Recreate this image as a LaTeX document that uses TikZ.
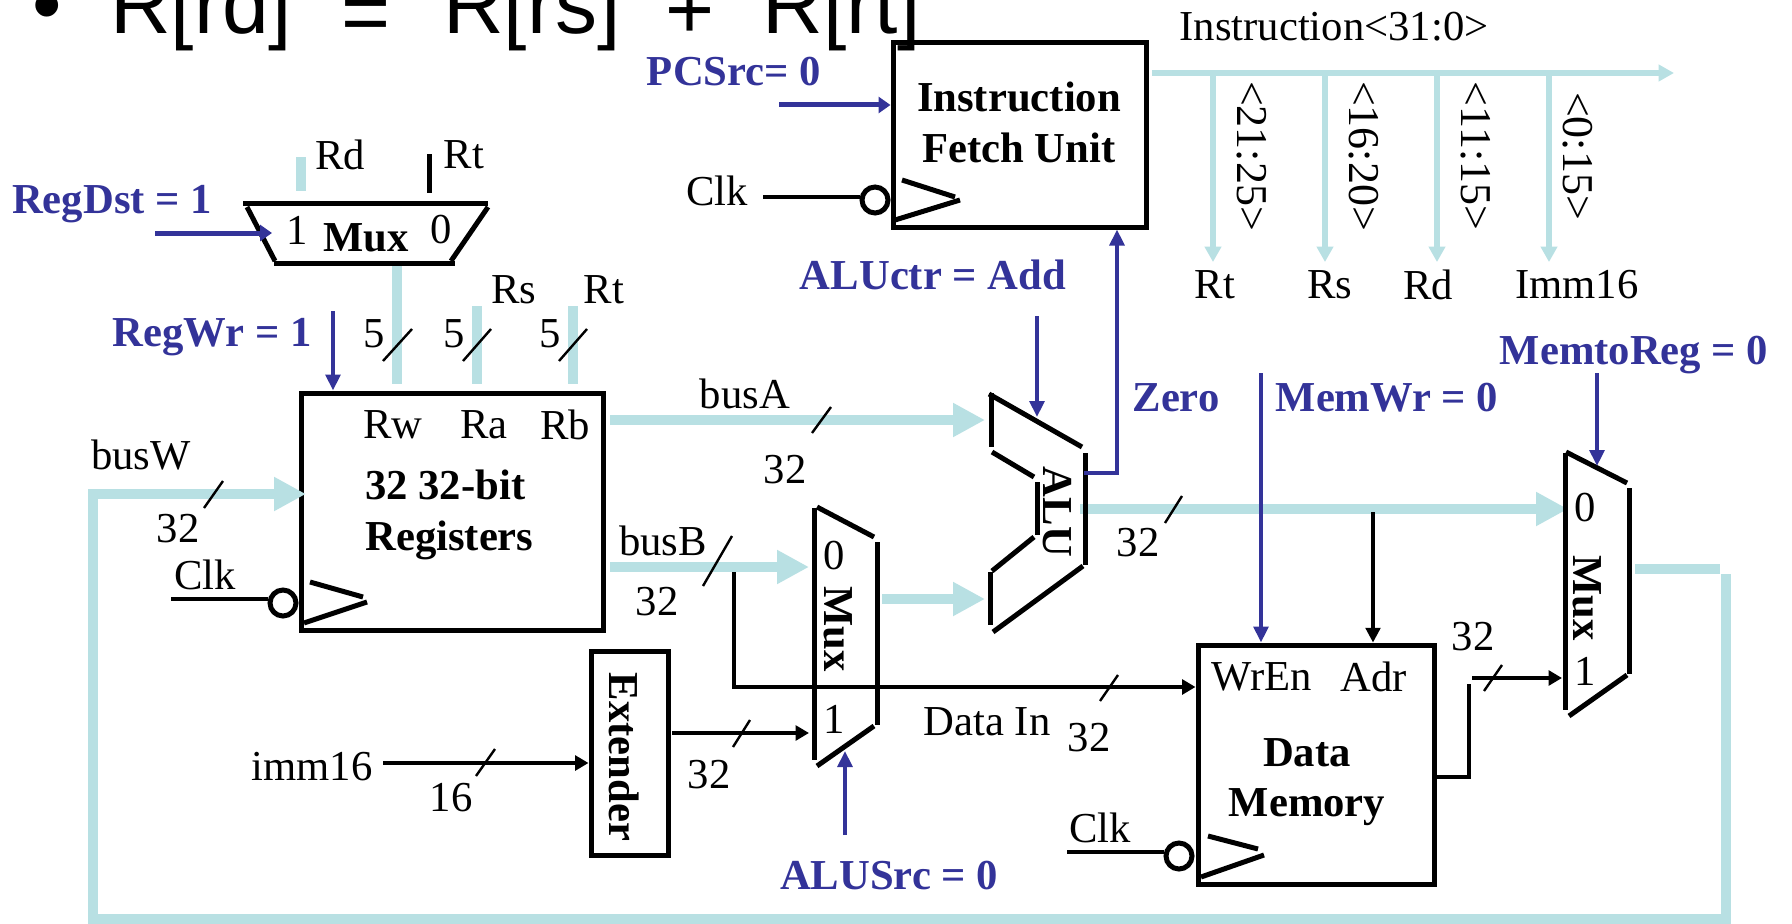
\documentclass[tikz,border=0pt]{standalone}
\usepackage{fontspec}
\setmainfont{Liberation Serif}
\newfontfamily\arialfont{Liberation Sans}
\usetikzlibrary{arrows.meta}
\def\px{0.75pt}
\definecolor{busteal}{HTML}{B8E0E3}
\definecolor{ctlblue}{HTML}{333399}
\tikzset{
  lbl/.style={font=\fontsize{32}{36}\selectfont,inner sep=0pt,anchor=center},
  rotlbl/.style={font=\fontsize{33}{36}\selectfont,inner sep=0pt,anchor=center,rotate=-90},
  bld/.style={font=\fontsize{32}{36}\selectfont\bfseries,inner sep=0pt,anchor=center},
  ctl/.style={bld,text=ctlblue},
  blockbox/.style={draw=black,line width=5*\px,minimum width=#1,inner sep=0pt},
  seg/.style={draw=black,line width=5*\px},
  tick/.style={draw=black,line width=2.4*\px},
  bus/.style={draw=busteal,line width=10.5*\px},
  busarrow/.style={bus,-{Triangle[length=24pt,width=24pt]}},
  thinbus/.style={draw=busteal,line width=5.5*\px},
  thinbusarrow/.style={thinbus,-{Triangle[length=11.5pt,width=12pt]}},
  wire/.style={draw=black,line width=4.6*\px},
  wirearrow/.style={wire,-{Triangle[length=10pt,width=11pt]}},
  ctlarrow/.style={draw=ctlblue,line width=3.8*\px,-{Triangle[length=12pt,width=11pt]}},
  ctlthick/.style={draw=ctlblue,line width=5*\px,-{Triangle[length=9pt,width=12pt]}},
  clkcirc/.style={circle,draw=black,fill=white,line width=5*\px,minimum size=26*\px,inner sep=0pt},
  clktri/.style={draw=black,line width=5*\px},
  headfont/.style={font=\fontsize{63}{70}\arialfont,anchor=base west,inner sep=0pt},
}
\begin{document}
\begin{tikzpicture}[x=0.75pt,y=-0.75pt]
\useasboundingbox (0,0) rectangle (1792,924);
\fill[white] (0,0) rectangle (1792,924);
\clip (0,0) rectangle (1792,924);

% ---- blocks
\node[blockbox=253*\px,minimum height=184*\px] (ifu) at (1019.5,135) {};
\node[blockbox=302*\px,minimum height=237*\px] (regs) at (452,511.5) {};
\node[blockbox=236*\px,minimum height=239*\px] (mem) at (1316,764.5) {};
\node[blockbox=77*\px,minimum height=204*\px] (ext) at (629.5,753) {};

% ---- wide buses
\coordinate (muxOut) at (397,265);
\coordinate (rsS) at (477,306);
\coordinate (rtS) at (573,306);
\coordinate (portEnd) at (573,384);
\coordinate (rdS) at (301,157);
\coordinate (rdE) at (301,191);
\draw[bus] (rdS) -- (rdE);
\draw[bus] (muxOut) -- (muxOut |- portEnd);
\draw[bus] (rsS) -- (rsS |- portEnd);
\draw[bus] (rtS) -- (portEnd);

\coordinate (busAS) at (610,420);
\coordinate (aluA) at (985,420);
\draw[busarrow] (busAS) -- (aluA);
\coordinate (busBS) at (610,567);
\coordinate (muxB0) at (809,567);
\draw[busarrow] (busBS) -- (muxB0);
\coordinate (muxBOut) at (882,599);
\coordinate (aluB) at (985,599);
\draw[busarrow] (muxBOut) -- (aluB);
\coordinate (aluOut) at (1080,509);
\coordinate (wbMux0) at (1568,509);
\draw[busarrow] (aluOut) -- (wbMux0);
\coordinate (wbOut) at (1635,569);
\coordinate (wbC) at (1720,569);
\draw[bus] (wbOut) -- (wbC);
\coordinate (fbA) at (1726,574);
\coordinate (fbB) at (1726,919);
\coordinate (fbC) at (93,919);
\coordinate (fbD) at (93,494);
\coordinate (regW) at (306,494);
\draw[bus,line join=miter,-{Triangle[length=24pt,width=24pt]}] (fbA) -- (fbB) -- (fbC) -- (fbD) -- (regW);

% ---- instruction bus
\coordinate (insS) at (1152,73);
\coordinate (insE) at (1674,73);
\draw[thinbusarrow] (insS) -- (insE);
\coordinate (dropA) at (1213,73);
\coordinate (dropB) at (1325,73);
\coordinate (dropC) at (1437,73);
\coordinate (dropD) at (1549,73);
\coordinate (dropEnd) at (1549,262);
\draw[thinbusarrow] (dropA) -- (dropA |- dropEnd);
\draw[thinbusarrow] (dropB) -- (dropB |- dropEnd);
\draw[thinbusarrow] (dropC) -- (dropC |- dropEnd);
\draw[thinbusarrow] (dropD) -- (dropEnd);

% ---- register-destination mux
\draw[seg] (243,203) -- (488,203);
\draw[seg] (247,207) -- (275,261);
\draw[seg] (488,207) -- (451,261);
\draw[seg] (274,263) -- (455,263);
\coordinate (rtTop) at (429,154);
\coordinate (rtBot) at (429,193);
\draw[seg] (rtTop) -- (rtBot);

% ---- ALU
\draw[seg] (991,393) -- (991,447);
\draw[seg] (989,394) -- (1082,447);
\draw[seg] (992,452) -- (1034,477);
\draw[seg] (1037,482) -- (1037,535);
\draw[seg] (1034,537) -- (992,571);
\draw[seg] (990,572) -- (990,625);
\draw[seg] (993,632) -- (1083,566);
\draw[seg] (1085,453) -- (1085,565);

% ---- ALUSrc mux
\draw[seg] (814,508) -- (814,760);
\draw[seg] (817,507) -- (874,537);
\draw[seg] (877,542) -- (877,725);
\draw[seg] (874,726) -- (817,766);

% ---- MemtoReg mux
\draw[seg] (1565,453) -- (1565,710);
\draw[seg] (1566,452) -- (1627,483);
\draw[seg] (1629,488) -- (1629,674);
\draw[seg] (1627,675) -- (1569,716);

% ---- clocks
\node[clkcirc] (ifuClk) at (875,200) {};
\coordinate (ifuClkS) at (763,197);
\draw[wire] (ifuClkS) -- (ifuClkS -| ifuClk.west);
\draw[clktri] (902,180) -- (955,197);
\draw[clktri] (960,200) -- (895,220);
\node[clkcirc] (regClk) at (283,603) {};
\coordinate (regClkS) at (171,599);
\draw[wire] (regClkS) -- (regClkS -| regClk.west);
\draw[clktri] (310,582) -- (363,597);
\draw[clktri] (367,602) -- (304,623);
\node[clkcirc] (memClk) at (1179,856) {};
\coordinate (memClkS) at (1067,852);
\draw[wire] (memClkS) -- (memClkS -| memClk.west);
\draw[clktri] (1208,836) -- (1258,849);
\draw[clktri] (1264,855) -- (1201,877);

% ---- black data wires
\coordinate (imS) at (383,763);
\draw[wirearrow] (imS) -- (imS -| ext.west);
\coordinate (exOut) at (672,733);
\coordinate (muxB1) at (809,733);
\draw[wirearrow] (exOut) -- (muxB1);
\coordinate (dinA) at (734,572);
\coordinate (dinB) at (734,687);
\draw[wirearrow] (dinA) -- (dinB) -- (dinB -| mem.west);
\coordinate (adrS) at (1373,512);
\draw[draw=black,line width=3.2*\px,-{Triangle[length=11pt,width=11pt]}] (adrS) -- (adrS |- mem.north);
\coordinate (mdA) at (1469,777);
\coordinate (mdB) at (1469,684);
\draw[wire] (mdA -| mem.east) -- (mdA) -- (mdB);
\coordinate (mdC) at (1472,678);
\coordinate (wbMux1) at (1562,678);
\draw[wirearrow] (mdC) -- (wbMux1);

% ---- control lines
\coordinate (regDstS) at (155,233);
\coordinate (regDstT) at (272,233);
\draw[ctlthick] (regDstS) -- (regDstT);
\coordinate (regWrS) at (333,311);
\draw[ctlarrow] (regWrS) -- (regWrS |- regs.north);
\coordinate (pcS) at (779,105);
\draw[ctlthick] (pcS) -- (pcS -| ifu.west);
\coordinate (aluCtlS) at (1037,316);
\coordinate (aluCtlT) at (1037,417);
\draw[ctlarrow] (aluCtlS) -- (aluCtlT);
\coordinate (zeroA) at (1084,473);
\coordinate (zeroB) at (1117,473);
\draw[ctlarrow] (zeroA) -- (zeroB) -- (zeroB |- ifu.south);
\coordinate (memWrS) at (1261,373);
\draw[ctlarrow] (memWrS) -- (memWrS |- mem.north);
\coordinate (m2rS) at (1597,373);
\coordinate (m2rT) at (1597,466);
\draw[ctlarrow] (m2rS) -- (m2rT);
\coordinate (aluSrcS) at (845,835);
\coordinate (aluSrcT) at (845,751);
\draw[ctlarrow] (aluSrcS) -- (aluSrcT);

% ---- width ticks
\draw[tick] (383,361) -- (412,329);
\draw[tick] (463,361) -- (491,329);
\draw[tick] (559,361) -- (587,329);
\draw[tick] (812,433) -- (831,407);
\draw[tick] (204,508) -- (223,481);
\draw[tick] (703,586) -- (732,536);
\draw[tick] (1165,523) -- (1182,496);
\draw[tick] (1100,701) -- (1118,675);
\draw[tick] (1484,691) -- (1502,665);
\draw[tick] (476,776) -- (495,749);
\draw[tick] (733,747) -- (750,720);

% ---- labels
\node[lbl] (tInstr) at (1334,27) {Instruction<31:0>};
\node[bld] (tIfu1) at (1019,97) {Instruction};
\node[bld] (tIfu2) at (1019,148) {Fetch Unit};
\node[lbl] (tRd) at (340,155) {Rd};
\node[lbl] (tRt) at (464,155) {Rt};
\node[lbl] (tM1) at (297,230) {1};
\node[bld] (tMux1) at (366,238) {Mux};
\node[lbl] (tM0) at (441,230) {0};
\node[lbl] (tClk1) at (717,191) {Clk};
\node[lbl] (tRs2) at (514,290) {Rs};
\node[lbl] (tRt2) at (604,290) {Rt};
\node[lbl] (t5a) at (374,334) {5};
\node[lbl] (t5b) at (454,334) {5};
\node[lbl] (t5c) at (550,334) {5};
\node[lbl] (tRw) at (393,425) {Rw};
\node[lbl] (tRa) at (484,425) {Ra};
\node[lbl] (tRb) at (565,425) {Rb};
\node[lbl] (tBusA) at (745,394) {busA};
\node[lbl] (t32a) at (785,470) {32};
\node[lbl] (tBusW) at (141,455) {busW};
\node[lbl] (t32w) at (178,529) {32};
\node[lbl] (tClk2) at (205,575) {Clk};
\node[bld,anchor=west] (tReg1) at (365,485) {32 32-bit};
\node[bld,anchor=west] (tReg2) at (365,540) {Registers};
\node[lbl] (tBusB) at (663,541) {busB};
\node[lbl] (t32b) at (657,602) {32};
\node[lbl] (tMB0) at (834,556) {0};
\node[bld,rotate=-90] (tMuxB) at (838,629) {Mux};
\node[lbl] (tMB1) at (834,719) {1};
\node[bld,rotate=-90] (tExt) at (624,757) {Extender};
\node[lbl] (tImm) at (312,767) {imm16};
\node[lbl] (t16) at (451,798) {16};
\node[lbl] (t32e) at (709,775) {32};
\node[lbl] (tDin) at (987,722) {Data In};
\node[lbl] (t32d) at (1089,738) {32};
\node[bld,rotate=-90] (tAlu) at (1057,512) {ALU};
\node[lbl] (t32o) at (1138,543) {32};
\node[lbl] (tWrEn) at (1262,677) {WrEn};
\node[lbl] (tAdr) at (1374,677) {Adr};
\node[bld] (tData) at (1307,753) {Data};
\node[bld] (tMem) at (1307,807) {Memory};
\node[lbl] (tClk3) at (1100,828) {Clk};
\node[lbl] (t32m) at (1473,637) {32};
\node[lbl] (tW0) at (1585,508) {0};
\node[bld,rotate=-90] (tMuxW) at (1587,598) {Mux};
\node[lbl] (tW1) at (1585,671) {1};
\node[rotlbl] (tB1) at (1252,156) {<21:25>};
\node[rotlbl] (tB2) at (1364,156) {<16:20>};
\node[rotlbl] (tB3) at (1476,156) {<11:15>};
\node[rotlbl] (tB4) at (1578,156) {<0:15>};
\node[lbl] (tRtI) at (1215,285) {Rt};
\node[lbl] (tRsI) at (1330,285) {Rs};
\node[lbl] (tRdI) at (1428,285) {Rd};
\node[lbl] (tImmI) at (1577,285) {Imm16};
\node[ctl] (cPc) at (734,72) {PCSrc= 0};
\node[ctl] (cDst) at (112,204) {RegDst = 1};
\node[ctl] (cWr) at (212,337) {RegWr = 1};
\node[ctl] (cAlu) at (933,275) {ALUctr = Add};
\node[ctl] (cZero) at (1176,398) {Zero};
\node[ctl] (cMemWr) at (1387,398) {MemWr = 0};
\node[ctl] (cM2r) at (1634,355) {MemtoReg = 0};
\node[ctl] (cSrc) at (889,876) {ALUSrc = 0};

% ---- slide heading, cut by the top edge
\node[headfont] (tBullet) at (32,34) {•};
\node[headfont] (tHead) at (110,34) {R[rd]\hspace{37pt}\raisebox{-6pt}{=}\hspace{39.5pt}R[rs]\hspace{34pt}\raisebox{-3.75pt}{+}\hspace{35.5pt}R[rt]};
\end{tikzpicture}
\end{document}
